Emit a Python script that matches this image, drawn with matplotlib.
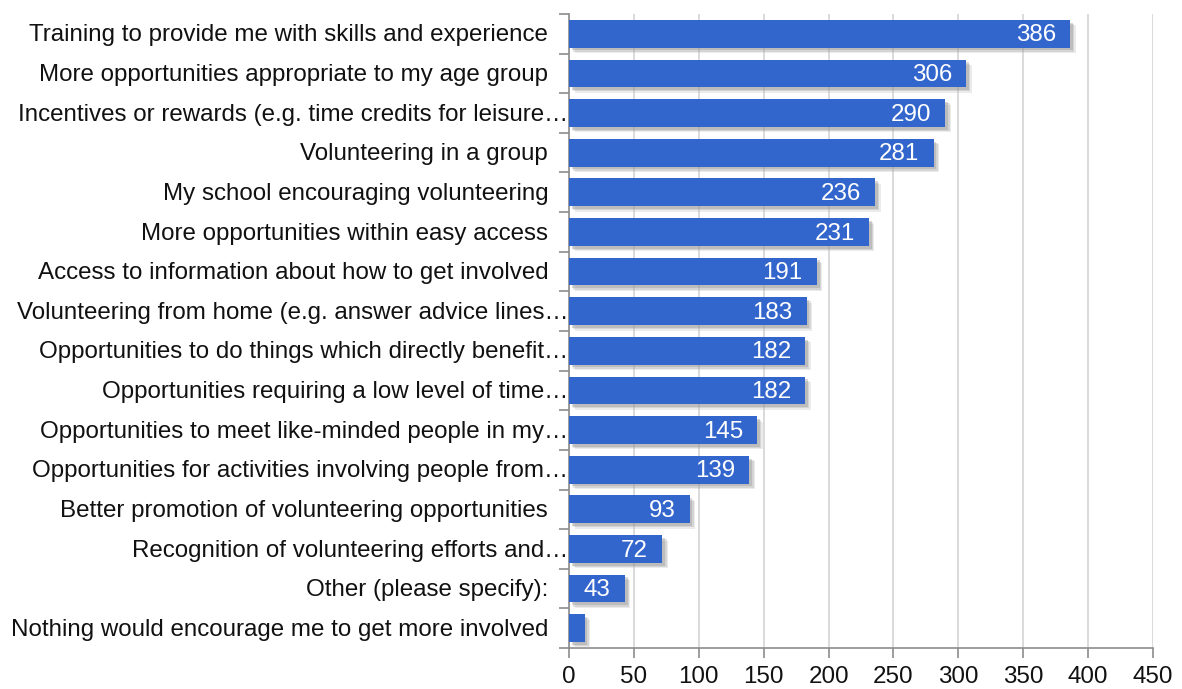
import numpy as np
import matplotlib
matplotlib.use("Agg")
import matplotlib.pyplot as plt
import matplotlib.patheffects as pe

plt.rcParams["font.family"] = ["Liberation Sans", "DejaVu Sans"]

# survey answers, top to bottom
categories = [
    "Training to provide me with skills and experience",
    "More opportunities appropriate to my age group",
    "Incentives or rewards (e.g. time credits for leisure\u2026",
    "Volunteering in a group",
    "My school encouraging volunteering",
    "More opportunities within easy access",
    "Access to information about how to get involved",
    "Volunteering from home (e.g. answer advice lines\u2026",
    "Opportunities to do things which directly benefit\u2026",
    "Opportunities requiring a low level of time\u2026",
    "Opportunities to meet like-minded people in my\u2026",
    "Opportunities for activities involving people from\u2026",
    "Better promotion of volunteering opportunities",
    "Recognition of volunteering efforts and\u2026",
    "Other (please specify):",
    "Nothing would encourage me to get more involved",
]
counts = [386, 306, 290, 281, 236, 231, 191, 183, 182, 182, 145, 139, 93, 72, 43, 12]
show_value = [True] * 15 + [False]
x_ticks = [0, 50, 100, 150, 200, 250, 300, 350, 400, 450]

bar_color = "#3366CC"
axis_gray = "#8c8c8c"
fs = 17.4

fig = plt.figure(figsize=(11.82, 6.89), dpi=100)
ax = fig.add_axes([0.4814, 0.0595, 0.4941, 0.9202])

n = len(categories)
ypos = np.arange(n)
bars = ax.barh(ypos, counts, height=0.7, color=bar_color, zorder=3)
# soft drop shadow: a few faint offset copies
for b in bars:
    b.set_path_effects([
        pe.SimplePatchShadow(offset=(4, -4), shadow_rgbFace="#b0b0b0", alpha=0.25),
        pe.SimplePatchShadow(offset=(3, -3), shadow_rgbFace="#a0a0a0", alpha=0.3),
        pe.SimplePatchShadow(offset=(2, -2), shadow_rgbFace="#909090", alpha=0.35),
        pe.Normal(),
    ])

ax.set_xlim(0, 450)
ax.set_ylim(n - 0.5, -0.5)

# vertical grid
ax.set_xticks(x_ticks)
ax.set_xticklabels([str(t) for t in x_ticks], fontsize=fs)
ax.grid(axis="x", color="#d4d4d4", linewidth=1.2, zorder=0)
ax.tick_params(axis="x", direction="out", length=7, width=1.2, color=axis_gray,
               pad=6, labelcolor="#111111")

# y ticks sit on the category boundaries
ax.set_yticks(np.arange(-0.5, n, 1.0))
ax.set_yticklabels([])
ax.tick_params(axis="y", direction="out", length=7, width=1.2, color=axis_gray)

for side in ["top", "right"]:
    ax.spines[side].set_visible(False)
for side in ["left", "bottom"]:
    ax.spines[side].set_color(axis_gray)
    ax.spines[side].set_linewidth(1.2)

# category labels; truncated ones run up to the axis
for y, label in zip(ypos, categories):
    x = -0.5 if label.endswith("\u2026") else -16
    ax.text(x, y + 0.04, label, ha="right", va="center", fontsize=fs,
            color="#111111", clip_on=False)

# value labels inside the bar ends
for y, v, show in zip(ypos, counts, show_value):
    if show:
        ax.text(v - 11, y + 0.04, str(v), ha="right", va="center", fontsize=fs,
                color="white", zorder=4)

fig.savefig("out.png", dpi=100)
